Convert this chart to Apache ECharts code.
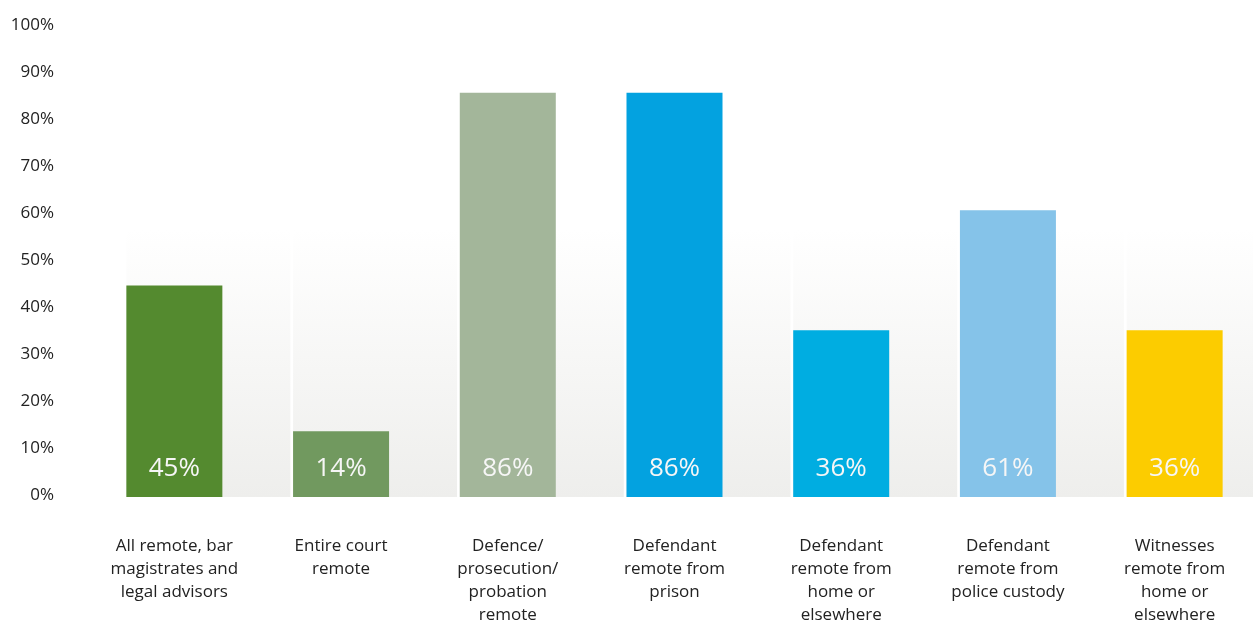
<!DOCTYPE html>
<html>
<head>
<meta charset="utf-8">
<script src="https://cdn.jsdelivr.net/npm/echarts@6/dist/echarts.min.js"></script>
<style>
  html, body { margin: 0; padding: 0; background: #fff; }
  #chart { width: 1253px; height: 624px; }
</style>
</head>
<body>
<div id="chart"></div>
<script>
  // categories shown under the bars
  const categories = [
    'All remote, bar\nmagistrates and\nlegal advisors',
    'Entire court\nremote',
    'Defence/\nprosecution/\nprobation\nremote',
    'Defendant\nremote from\nprison',
    'Defendant\nremote from\nhome or\nelsewhere',
    'Defendant\nremote from\npolice custody',
    'Witnesses\nremote from\nhome or\nelsewhere'
  ]
  // percentages
  const values = [45, 14, 86, 86, 35.5, 61, 35.5]
  const barColors = ['#548a2f', '#71995f', '#a3b69a', '#03a2e0', '#00ade1', '#85c3e9', '#fccc00']
  const yTicks = [0, 10, 20, 30, 40, 50, 60, 70, 80, 90, 100]
  // height of the shaded backdrop behind each category
  const bandLevel = 57

  const chart = echarts.init(document.getElementById('chart'))
  const font = '"Open Sans", sans-serif'

  const option = {
    animation: false,
    grid: { left: 91, width: 1167, top: 27, bottom: 127, outerBoundsMode: 'none', containLabel: false },
    xAxis: {
      type: 'category',
      data: categories,
      axisLine: { show: false },
      axisTick: { show: false },
      axisLabel: {
        interval: 0,
        margin: 38,
        color: '#222',
        fontFamily: font,
        fontSize: 17,
        lineHeight: 23
      }
    },
    yAxis: {
      type: 'value',
      min: yTicks[0],
      max: yTicks[yTicks.length - 1],
      interval: 10,
      splitLine: { show: false },
      axisLine: { show: false },
      axisTick: { show: false },
      axisLabel: {
        margin: 37,
        color: '#222',
        fontFamily: font,
        fontSize: 17,
        verticalAlign: 'bottom',
        lineHeight: 4,
        formatter: v => v + '%'
      }
    },
    series: [
      {
        type: 'bar',
        silent: true,
        barWidth: 164,
        barGap: '-100%',
        data: categories.map(() => bandLevel),
        itemStyle: {
          color: new echarts.graphic.LinearGradient(0, 0, 0, 1, [
            { offset: 0, color: '#ffffff' },
            { offset: 1, color: '#eeeeec' }
          ])
        },
        z: 1
      },
      {
        type: 'bar',
        barWidth: 96,
        data: values.map((v, i) => ({ value: v, itemStyle: { color: barColors[i] } })),
        label: {
          show: true,
          position: 'insideBottom',
          distance: 15,
          color: '#f6f6f6',
          fontFamily: font,
          fontSize: 26,
          formatter: p => Math.round(p.value) + '%'
        },
        z: 2
      }
    ]
  }
  chart.setOption(option)
</script>
</body>
</html>
